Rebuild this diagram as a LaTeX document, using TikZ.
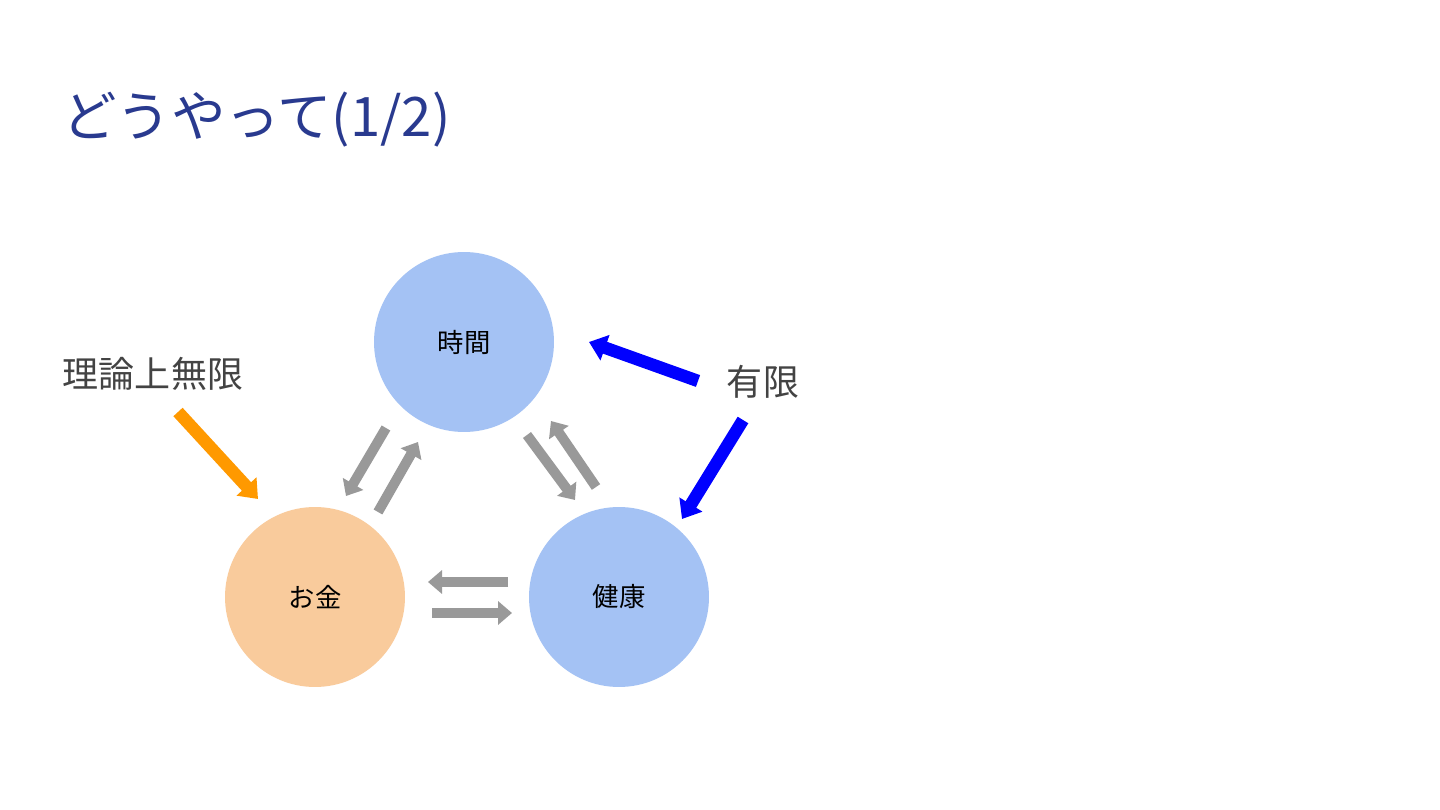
\documentclass[tikz,border=0pt]{standalone}
\usepackage{fontspec}
\setmainfont{Noto Sans CJK JP}
\usepackage{xcolor}
\usetikzlibrary{arrows.meta, positioning}
\definecolor{titleblue}{RGB}{41,58,143}
\definecolor{circblue}{RGB}{164,194,244}
\definecolor{circorange}{RGB}{249,203,156}
\definecolor{flowgray}{RGB}{153,153,153}
\definecolor{labelgray}{RGB}{67,67,67}
\definecolor{limitorange}{RGB}{255,153,0}
\tikzset{
  res/.style={circle, minimum size=3.6cm, inner sep=0pt, font=\fontsize{15}{17}\selectfont},
  note/.style={text=labelgray, font=\fontsize{20.5}{24}\selectfont, inner sep=0pt},
  flow/.style={-{Triangle[width=0.46cm, length=0.28cm]}, draw=flowgray, line width=0.2cm},
  limit/.style={-{Triangle[width=0.52cm, length=0.34cm]}, line width=0.25cm}
}
\begin{document}
\begin{tikzpicture}[x=0.02cm, y=-0.02cm]
  \useasboundingbox[fill=white] (0,0) rectangle (1440,810);
  \node[anchor=west, text=titleblue, font=\fontsize{31}{35}\selectfont, inner sep=0pt] (title) at (62,120) {どうやって(1/2)};

  \node[res, fill=circblue] (time) at (464,342) {時間};
  \node[res, fill=circorange] (money) at (315,597) {お金};
  \node[res, fill=circblue] (health) at (619,597) {健康};

  \node[note] (infinite) at (153,374) {理論上無限};
  \node[note] (finite) at (763,382) {有限};

  % arrow ends
  \coordinate (tm1) at (386,428);  \coordinate (tm2) at (346,496);
  \coordinate (mt1) at (378,512);  \coordinate (mt2) at (418,442);
  \coordinate (th1) at (527,435);  \coordinate (th2) at (575,500);
  \coordinate (ht1) at (596,487);  \coordinate (ht2) at (551,421);
  \coordinate (hm1) at (508,582);  \coordinate (hm2) at (428,582);
  \coordinate (mh1) at (432,613);  \coordinate (mh2) at (512,613);
  \coordinate (im1) at (178,412);  \coordinate (im2) at (258,499);
  \coordinate (ft1) at (698,381);  \coordinate (ft2) at (589,342);
  \coordinate (fh1) at (743,420);  \coordinate (fh2) at (682,519);

  \draw[flow] (tm1) -- (tm2);
  \draw[flow] (mt1) -- (mt2);
  \draw[flow] (th1) -- (th2);
  \draw[flow] (ht1) -- (ht2);
  \draw[flow] (hm1) -- (hm2);
  \draw[flow] (mh1) -- (mh2);

  \draw[limit, color=limitorange] (im1) -- (im2);
  \draw[limit, color=blue] (ft1) -- (ft2);
  \draw[limit, color=blue] (fh1) -- (fh2);
\end{tikzpicture}
\end{document}
